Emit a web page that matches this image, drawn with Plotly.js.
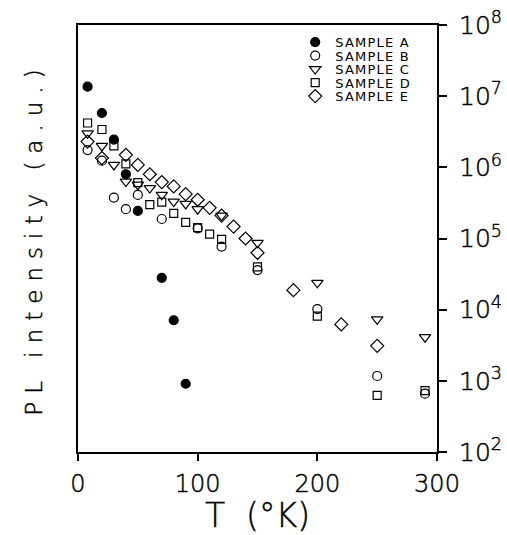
<!DOCTYPE html>
<html>
<head>
<meta charset="utf-8">
<script src="https://cdn.plot.ly/plotly-3.0.1.min.js"></script>
<style>
  html, body { margin: 0; padding: 0; background: #fff; }
  #chart { width: 507px; height: 535px; }
  .legendtext { letter-spacing: 1.2px; }
  .annotation-text { letter-spacing: 8px; }
  .xtick text, .ytick text, .xtitle, .annotation-text { stroke: #000; stroke-width: 0.45px; }
</style>
</head>
<body>
<div id="chart"></div>
<script>
// ---- data ----
const sampleNames = ['SAMPLE A', 'SAMPLE B', 'SAMPLE C', 'SAMPLE D', 'SAMPLE E'];

const tempA = [8, 20, 30, 40, 50, 70, 80, 90];
const pliA  = [1.36e7, 5.8e6, 2.45e6, 8.0e5, 2.44e5, 2.8e4, 7.1e3, 9.1e2];

const tempB = [8, 20, 30, 40, 50, 70, 100, 120, 150, 200, 250, 290];
const pliB  = [1.75e6, 1.24e6, 3.76e5, 2.58e5, 4.1e5, 1.88e5, 1.39e5, 7.7e4, 3.6e4, 1.02e4, 1.17e3, 6.6e2];

const tempC = [8, 20, 30, 40, 50, 60, 70, 80, 90, 100, 120, 150, 200, 250, 290];
const pliC  = [3.0e6, 2.0e6, 1.08e6, 6.3e5, 5.7e5, 5.1e5, 4.1e5, 3.3e5, 3.06e5, 2.58e5, 2.1e5, 8.7e4, 2.38e4, 7.3e3, 4.1e3];

const tempD = [8, 20, 30, 40, 50, 60, 70, 80, 90, 100, 110, 120, 150, 200, 250, 290];
const pliD  = [4.2e6, 3.4e6, 2.0e6, 1.12e6, 6.1e5, 3.0e5, 3.25e5, 2.26e5, 1.69e5, 1.42e5, 1.15e5, 9.7e4, 4.0e4, 8.1e3, 6.25e2, 7.3e2];

const tempE = [8, 20, 40, 50, 60, 70, 80, 90, 100, 110, 120, 130, 140, 150, 180, 220, 250];
const pliE  = [2.3e6, 1.35e6, 1.5e6, 1.08e6, 8.0e5, 6.2e5, 5.4e5, 4.2e5, 3.5e5, 2.7e5, 2.1e5, 1.47e5, 1.0e5, 6.3e4, 1.88e4, 6.2e3, 3.1e3];

const xTickVals = [0, 100, 200, 300];
const yTickVals = [1e2, 1e3, 1e4, 1e5, 1e6, 1e7, 1e8];
const yTickText = ['10<sup>2</sup>', '10<sup>3</sup>', '10<sup>4</sup>', '10<sup>5</sup>', '10<sup>6</sup>', '10<sup>7</sup>', '10<sup>8</sup>'];

const xTitle = 'T\u00A0\u00A0(°K)';
const yTitle = 'PL intensity (a.u.)';

// ---- styling ----
const FONT = 'DejaVu Sans, Verdana, sans-serif';
const WEIGHT = 200;
const symbols = ['circle', 'circle-open', 'triangle-down-open', 'square-open', 'diamond-open'];
const sizes = [9, 9, 10, 8, 10];
const xs = [tempA, tempB, tempC, tempD, tempE];
const ys = [pliA, pliB, pliC, pliD, pliE];

const traces = sampleNames.map((name, i) => ({
  type: 'scatter',
  mode: 'markers',
  name: name,
  x: xs[i],
  y: ys[i],
  cliponaxis: false,
  marker: {
    symbol: symbols[i],
    size: sizes[i],
    color: '#000',
    line: { color: '#000', width: 1.2 }
  }
}));

const layout = {
  width: 507,
  height: 535,
  margin: { l: 78, r: 70, t: 25, b: 83 },
  paper_bgcolor: '#fff',
  plot_bgcolor: '#fff',
  font: { family: FONT, color: '#000', weight: WEIGHT },
  showlegend: true,
  legend: {
    x: 0.605, y: 0.995, xanchor: 'left', yanchor: 'top',
    bgcolor: 'rgba(0,0,0,0)',
    font: { family: FONT, size: 13, color: '#000', weight: 'normal' }
  },
  xaxis: {
    range: [0, 300],
    tickvals: xTickVals,
    ticks: 'outside', ticklen: 7, tickwidth: 2, tickcolor: '#000',
    showline: true, linewidth: 2, linecolor: '#000', mirror: true,
    showgrid: false, zeroline: false,
    tickfont: { family: FONT, size: 24, color: '#000', weight: WEIGHT },
    ticklabelstandoff: 2,
    title: { text: xTitle, font: { family: FONT, size: 33, color: '#000', weight: WEIGHT }, standoff: 4 }
  },
  yaxis: {
    type: 'log',
    range: [2, 8],
    side: 'right',
    tickvals: yTickVals,
    ticktext: yTickText,
    ticks: 'outside', ticklen: 8, tickwidth: 2, tickcolor: '#000',
    showline: true, linewidth: 2, linecolor: '#000', mirror: true,
    showgrid: false, zeroline: false,
    tickfont: { family: FONT, size: 25, color: '#000', weight: WEIGHT },
    ticklabelstandoff: 7
  },
  annotations: [{
    text: yTitle,
    xref: 'paper', yref: 'paper',
    x: -0.125, y: 0.5,
    xanchor: 'center', yanchor: 'middle',
    textangle: -90,
    showarrow: false,
    font: { family: FONT, size: 23, color: '#000', weight: WEIGHT }
  }]
};

// tighten legend row pitch to the reference's ~13.5 px
const ROW_PITCH = 13.5;
function tightenLegend() {
  const rows = document.querySelectorAll('#chart .legend .traces');
  if (!rows.length) return;
  let x0 = 0, y0 = null;
  rows.forEach((g, i) => {
    const m = /translate\(\s*([-\d.]+)[ ,]+([-\d.]+)\s*\)/.exec(g.getAttribute('transform') || '');
    if (!m) return;
    if (y0 === null) { x0 = parseFloat(m[1]); y0 = parseFloat(m[2]); }
    g.setAttribute('transform', 'translate(' + x0 + ',' + (y0 + i * ROW_PITCH) + ')');
  });
}

const gd = document.getElementById('chart');
Plotly.newPlot(gd, traces, layout, { staticPlot: true, displayModeBar: false }).then(() => {
  tightenLegend();
  gd.on('plotly_afterplot', tightenLegend);
});
</script>
</body>
</html>
